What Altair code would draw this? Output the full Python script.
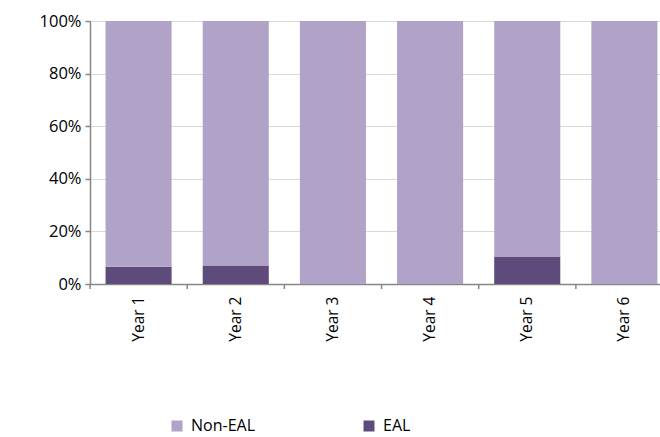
import altair as alt
import pandas as pd

years = ["Year 1", "Year 2", "Year 3", "Year 4", "Year 5", "Year 6"]
eal = [0.066, 0.070, 0.0, 0.0, 0.105, 0.0]
non_eal = [1 - v for v in eal]
groups = ["Non-EAL", "EAL"]
colors = ["#B1A2C8", "#5F4B7B"]

rows = []
for y, e, n in zip(years, eal, non_eal):
    rows.append({"year": y, "group": "EAL", "value": e, "ord": 0})
    rows.append({"year": y, "group": "Non-EAL", "value": n, "ord": 1})
df = pd.DataFrame(rows)
ticks_df = pd.DataFrame({"year": years})

FONT = "Open Sans"
W, H = 570, 263

xscale = alt.Scale(domain=years, range=[0, 583], paddingInner=0.32, paddingOuter=0.16)

bars = alt.Chart(df).mark_bar().encode(
    x=alt.X("year:N", scale=xscale, sort=years,
            axis=alt.Axis(title=None, labelAngle=270, ticks=False, labelPadding=12,
                          labelFont=FONT, labelFontSize=15.5, labelColor="#000000",
                          domainColor="#868686", domainWidth=1.5, grid=False)),
    y=alt.Y("value:Q", stack="zero",
            scale=alt.Scale(domain=[0, 1], nice=False),
            axis=alt.Axis(title=None, format=".0%", values=[0, 0.2, 0.4, 0.6, 0.8, 1.0],
                          labelFont=FONT, labelFontSize=16.5, labelColor="#000000",
                          tickColor="#868686", tickSize=5, tickWidth=1.5,
                          domainColor="#868686", domainWidth=1.5, labelPadding=4,
                          gridColor="#D9D9D9", gridWidth=1)),
    color=alt.Color("group:N", scale=alt.Scale(domain=groups, range=colors),
                    legend=alt.Legend(title=None, orient="none", direction="horizontal",
                                      legendX=79, legendY=397, padding=0,
                                      symbolType="square", symbolSize=121,
                                      symbolStrokeWidth=0, symbolOpacity=1,
                                      labelFont=FONT, labelFontSize=16,
                                      labelColor="#000000", labelOffset=6,
                                      columnPadding=106)),
    order=alt.Order("ord:Q"),
)

xticks = alt.Chart(ticks_df).mark_rule(color="#868686", strokeWidth=1.5, xOffset=-15.5).encode(
    x=alt.X("year:N", scale=xscale, sort=years, bandPosition=0),
    y=alt.value(H),
    y2=alt.value(H + 5),
)

chart = alt.layer(bars, xticks).properties(
    width=W, height=H,
    autosize=alt.AutoSizeParams(type="none"),
    padding={"left": 90, "top": 21, "right": 0, "bottom": 437 - 21 - H},
).configure_view(stroke=None).configure(background="white")

chart.save("out.html", embed_options={"renderer": "svg", "actions": False})
